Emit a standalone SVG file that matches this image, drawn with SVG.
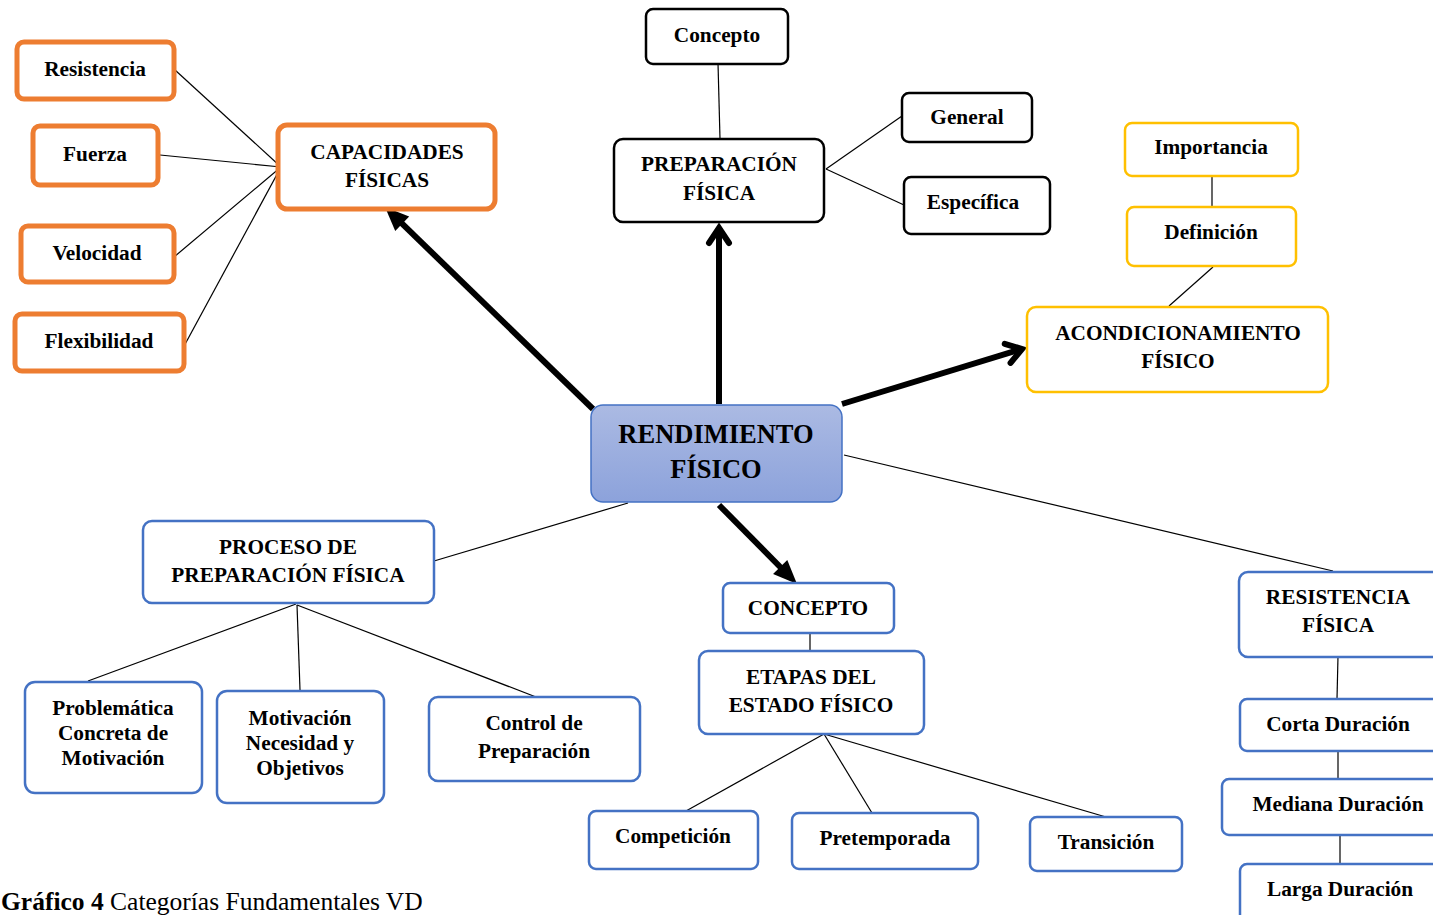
<svg xmlns="http://www.w3.org/2000/svg" width="1433" height="915" viewBox="0 0 1433 915">
<style>
text{font-family:"Liberation Serif","Times New Roman",serif;font-weight:bold;font-size:21.3px;fill:#000;text-anchor:middle}
.or{fill:#fff;stroke:#ED7D31;stroke-width:5}
.bk{fill:#fff;stroke:#000;stroke-width:2.5}
.ye{fill:#fff;stroke:#FFC000;stroke-width:2.5}
.bl{fill:#fff;stroke:#4472C4;stroke-width:2.5}
.thin{stroke:#000;stroke-width:1.2;fill:none}
.thick{stroke:#000;stroke-width:6;fill:none}
.big{font-size:26.5px}
.cap{text-anchor:start;font-size:25.5px}
</style>
<defs>
<linearGradient id="g" x1="0" y1="0" x2="0" y2="1">
<stop offset="0" stop-color="#ABBAE3"/>
<stop offset="1" stop-color="#8CA2DB"/>
</linearGradient>
<marker id="tri" markerUnits="userSpaceOnUse" markerWidth="26" markerHeight="22" refX="12" refY="10" orient="auto" overflow="visible">
<path d="M0,0 L24,10 L0,20 z" fill="#000"/>
</marker>
<marker id="chev" markerUnits="userSpaceOnUse" markerWidth="30" markerHeight="30" refX="17" refY="11" orient="auto" overflow="visible">
<path d="M2,1 L17,11 L2,21" fill="none" stroke="#000" stroke-width="6" stroke-linecap="round" stroke-linejoin="miter"/>
</marker>
</defs>
<rect width="1433" height="915" fill="#fff"/>
<g id="connectors">
<line class="thin" x1="175" y1="70" x2="281" y2="167"/>
<line class="thin" x1="160" y1="155" x2="281" y2="167"/>
<line class="thin" x1="174" y1="257" x2="281" y2="167"/>
<line class="thin" x1="183" y1="348" x2="281" y2="167"/>
<line class="thin" x1="718" y1="63" x2="720" y2="139"/>
<line class="thin" x1="826" y1="169" x2="902" y2="116"/>
<line class="thin" x1="826" y1="169" x2="904" y2="205"/>
<line class="thin" x1="1212" y1="176" x2="1212" y2="208"/>
<line class="thin" x1="1213" y1="267" x2="1169" y2="306"/>
<line class="thin" x1="628" y1="503" x2="434" y2="561"/>
<line class="thin" x1="844" y1="455" x2="1333" y2="571"/>
<line class="thin" x1="296" y1="604" x2="88" y2="681"/>
<line class="thin" x1="297" y1="605" x2="300" y2="690"/>
<line class="thin" x1="297" y1="605" x2="536" y2="697"/>
<line class="thin" x1="810" y1="633" x2="810" y2="651"/>
<line class="thin" x1="824" y1="734" x2="686" y2="811"/>
<line class="thin" x1="824" y1="734" x2="872" y2="813"/>
<line class="thin" x1="824" y1="734" x2="1106" y2="817"/>
<line class="thin" x1="1338" y1="656" x2="1337" y2="699"/>
<line class="thin" x1="1338" y1="751" x2="1338" y2="779"/>
<line class="thin" x1="1340" y1="835" x2="1340" y2="864"/>
<line class="thick" x1="593" y1="409" x2="393.6" y2="215.4" marker-end="url(#tri)"/>
<line class="thick" x1="719" y1="404" x2="719" y2="228" marker-end="url(#chev)"/>
<line class="thick" x1="842" y1="404" x2="1022" y2="349" marker-end="url(#chev)"/>
<line class="thick" x1="719" y1="505" x2="788.6" y2="575.5" marker-end="url(#tri)"/>
</g>
<g id="n-resistencia"><rect class="or" x="17" y="42" width="157" height="57" rx="7"/><text x="95" y="76">Resistencia</text></g>
<g id="n-fuerza"><rect class="or" x="33" y="126" width="125" height="59" rx="7"/><text x="95" y="161">Fuerza</text></g>
<g id="n-velocidad"><rect class="or" x="21" y="226" width="153" height="56" rx="7"/><text x="97" y="260">Velocidad</text></g>
<g id="n-flexibilidad"><rect class="or" x="15" y="314" width="169" height="57" rx="7"/><text x="99" y="348">Flexibilidad</text></g>
<g id="n-capacidades"><rect class="or" x="278" y="125" width="217" height="84" rx="9"/><text x="387" y="159">CAPACIDADES</text><text x="387" y="187">FÍSICAS</text></g>
<g id="n-concepto-top"><rect class="bk" x="646" y="9" width="142" height="55" rx="7"/><text x="717" y="42">Concepto</text></g>
<g id="n-preparacion"><rect class="bk" x="614" y="139" width="210" height="83" rx="9"/><text x="719" y="171">PREPARACIÓN</text><text x="719" y="200">FÍSICA</text></g>
<g id="n-general"><rect class="bk" x="902" y="93" width="130" height="49" rx="7"/><text x="967" y="124">General</text></g>
<g id="n-especifica"><rect class="bk" x="904" y="177" width="146" height="57" rx="7"/><text x="973" y="209">Específica</text></g>
<g id="n-importancia"><rect class="ye" x="1125" y="123" width="173" height="53" rx="7"/><text x="1211" y="154">Importancia</text></g>
<g id="n-definicion"><rect class="ye" x="1127" y="207" width="169" height="59" rx="7"/><text x="1211" y="239">Definición</text></g>
<g id="n-acondicionamiento"><rect class="ye" x="1027" y="307" width="301" height="85" rx="9"/><text x="1178" y="340">ACONDICIONAMIENTO</text><text x="1178" y="368">FÍSICO</text></g>
<g id="n-rendimiento"><rect x="591" y="405" width="251" height="97" rx="12" fill="url(#g)" stroke="#4472C4" stroke-width="1.5"/><text class="big" x="716" y="443">RENDIMIENTO</text><text class="big" x="716" y="478">FÍSICO</text></g>
<g id="n-proceso"><rect class="bl" x="143" y="521" width="291" height="82" rx="9"/><text x="288" y="554">PROCESO DE</text><text x="288" y="582">PREPARACIÓN FÍSICA</text></g>
<g id="n-problematica"><rect class="bl" x="25" y="682" width="177" height="111" rx="10"/><text x="113" y="715">Problemática</text><text x="113" y="740">Concreta de</text><text x="113" y="765">Motivación</text></g>
<g id="n-motivacion"><rect class="bl" x="217" y="691" width="167" height="112" rx="10"/><text x="300" y="725">Motivación</text><text x="300" y="750">Necesidad y</text><text x="300" y="775">Objetivos</text></g>
<g id="n-control"><rect class="bl" x="429" y="697" width="211" height="84" rx="9"/><text x="534" y="730">Control de</text><text x="534" y="758">Preparación</text></g>
<g id="n-concepto"><rect class="bl" x="723" y="583" width="171" height="50" rx="7"/><text x="808" y="615">CONCEPTO</text></g>
<g id="n-etapas"><rect class="bl" x="699" y="651" width="225" height="83" rx="9"/><text x="811" y="684">ETAPAS DEL</text><text x="811" y="712">ESTADO FÍSICO</text></g>
<g id="n-competicion"><rect class="bl" x="589" y="811" width="169" height="58" rx="7"/><text x="673" y="843">Competición</text></g>
<g id="n-pretemporada"><rect class="bl" x="792" y="813" width="186" height="56" rx="7"/><text x="885" y="845">Pretemporada</text></g>
<g id="n-transicion"><rect class="bl" x="1030" y="817" width="152" height="54" rx="7"/><text x="1106" y="849">Transición</text></g>
<g id="n-resistencia-fisica"><rect class="bl" x="1239" y="572" width="205" height="85" rx="9"/><text x="1338" y="604">RESISTENCIA</text><text x="1338" y="632">FÍSICA</text></g>
<g id="n-corta"><rect class="bl" x="1240" y="699" width="204" height="52" rx="7"/><text x="1338" y="731">Corta Duración</text></g>
<g id="n-mediana"><rect class="bl" x="1222" y="779" width="222" height="56" rx="7"/><text x="1338" y="811">Mediana Duración</text></g>
<g id="n-larga"><rect class="bl" x="1240" y="864" width="204" height="60" rx="7"/><text x="1340" y="896">Larga Duración</text></g>
<text class="cap" x="1" y="910">Gráfico 4 <tspan font-weight="normal">Categorías Fundamentales VD</tspan></text>
</svg>
